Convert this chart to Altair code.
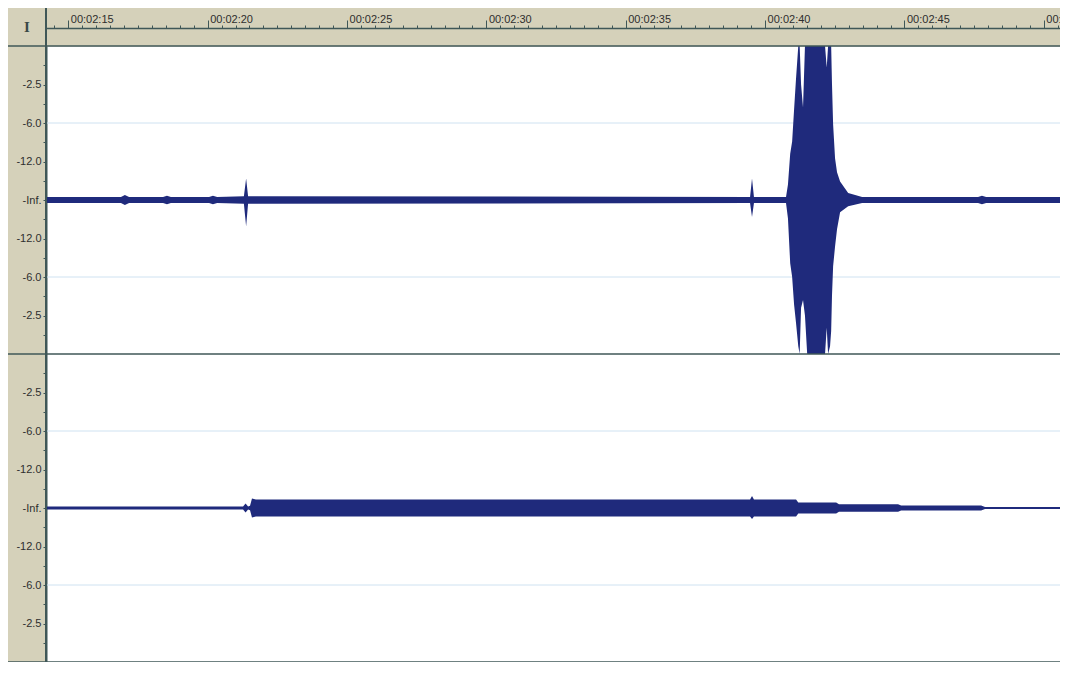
import altair as alt
import pandas as pd

# ---------------- text / ticks ----------------
ruler_major_seconds = [135, 140, 145, 150, 155, 160, 165, 170]
ruler_major_labels = ["00:02:15", "00:02:20", "00:02:25", "00:02:30",
                      "00:02:35", "00:02:40", "00:02:45", "00:02:50"]
ruler_minor_ticks = [134.5 + 0.5 * i for i in range(73)]
x_domain = [134.2, 170.58]

channel_centers = [1.0, -1.0]
db_offsets = [0.75, 0.5, 0.25, 0.0, -0.25, -0.5, -0.75]
db_labels = ["-2.5", "-6.0", "-12.0", "-Inf.", "-12.0", "-6.0", "-2.5"]
grid_offsets = [0.5, -0.5]
border_levels = [2.0, 0.0, -2.0]

# ---------------- channel 1 envelope (seconds, upper, lower amplitude) ----------------
ch1_time = [134.20, 136.89, 137.03, 137.18, 138.40, 138.54, 138.68, 140.05, 140.19,
            140.34, 141.30, 141.38, 141.45, 159.46, 159.53, 159.60, 160.75, 160.82,
            160.90, 160.97, 161.04, 161.11, 161.19, 161.24, 161.29, 161.36, 161.43,
            161.51, 162.15, 162.21, 162.26, 162.33, 162.37, 162.40, 162.44, 162.51,
            162.58, 162.69, 162.98, 163.48, 167.64, 167.78, 167.93, 170.98]
ch1_upper = [0.02, 0.02, 0.032, 0.02, 0.02, 0.028, 0.02, 0.02, 0.028,
             0.02, 0.025, 0.14, 0.025, 0.02, 0.14, 0.02, 0.02, 0.10,
             0.30, 0.38, 0.59, 0.79, 1.00, 1.00, 0.75, 0.60, 1.00,
             1.00, 1.00, 0.86, 1.00, 1.00, 1.00, 0.75, 0.49, 0.27,
             0.18, 0.12, 0.045, 0.02, 0.02, 0.028, 0.02, 0.02]
ch1_lower = [-0.02, -0.02, -0.032, -0.02, -0.02, -0.028, -0.02, -0.02, -0.028,
             -0.02, -0.025, -0.17, -0.025, -0.02, -0.11, -0.02, -0.02, -0.12,
             -0.41, -0.50, -0.68, -0.80, -0.95, -1.00, -0.70, -0.65, -0.75,
             -1.00, -1.00, -0.83, -1.00, -0.95, -0.85, -0.62, -0.43, -0.30,
             -0.19, -0.08, -0.04, -0.02, -0.02, -0.028, -0.02, -0.02]

# ---------------- channel 2 envelope ----------------
ch2_time = [134.20, 141.27, 141.36, 141.45, 141.52, 141.59, 141.73, 159.46, 159.53,
            159.60, 161.11, 161.19, 162.55, 162.65, 164.77, 164.88, 167.75, 167.89, 170.98]
ch2_upper = [0.01, 0.01, 0.03, 0.01, 0.015, 0.062, 0.055, 0.055, 0.078,
             0.055, 0.055, 0.035, 0.035, 0.024, 0.024, 0.016, 0.016, 0.007, 0.007]
ch2_lower = [-0.01, -0.01, -0.03, -0.01, -0.015, -0.062, -0.055, -0.055, -0.072,
             -0.055, -0.055, -0.035, -0.035, -0.024, -0.024, -0.016, -0.016, -0.007, -0.007]

# ---------------- styling ----------------
W, H = 1014, 616
PAD_L, PAD_T = 38, 38
BEIGE = "#d5d1ba"
LINE = "#3f5757"
WAVE = "#1f2a7c"
GRID = "#cfe2f1"
TEXT = "#2e2e2e"
FONT = "Liberation Sans"

# ---------------- tables ----------------
rows = []
for ch, (ts, up, lo) in enumerate([(ch1_time, ch1_upper, ch1_lower),
                                   (ch2_time, ch2_upper, ch2_lower)]):
    c = channel_centers[ch]
    for t, u, l in zip(ts, up, lo):
        rows.append({"ch": f"ch{ch + 1}", "t": t, "hi": c + u, "lo": c + l})
wave_df = pd.DataFrame(rows)

grid_df = pd.DataFrame({"y": [c + g for c in channel_centers for g in grid_offsets]})
border_df = pd.DataFrame({"y": border_levels})

y_tick_values = [c + k * 0.125 for c in channel_centers for k in range(-7, 8)]
y_label_expr = " : ".join(
    f"datum.value === {c + o} ? '{lab}'"
    for c in channel_centers for o, lab in zip(db_offsets, db_labels)
) + " : ''"
x_label_expr = " : ".join(
    f"datum.value === {s} ? '{lab}'" for s, lab in zip(ruler_major_seconds, ruler_major_labels)
) + " : ''"

xscale = alt.Scale(domain=x_domain, nice=False, zero=False)
yscale = alt.Scale(domain=[-2, 2], nice=False, zero=False)

x_axis = alt.Axis(
    orient="top", values=ruler_minor_ticks, labelExpr=x_label_expr, offset=18,
    tickSize={"condition": {"test": "datum.value % 5 === 0", "value": 8}, "value": 3},
    tickColor=LINE, tickWidth=1, domainColor=LINE, domainWidth=1.5,
    labelAlign="left", labelBaseline="alphabetic", labelPadding=-2, labelOffset=2,
    labelFont=FONT, labelFontSize=11, labelColor=TEXT, labelOverlap=False,
    labelFlush=False, grid=False, title="",
)
y_axis = alt.Axis(
    orient="left", values=y_tick_values, labelExpr=y_label_expr,
    tickSize=3, tickColor=LINE, tickWidth=1, domainColor=LINE, domainWidth=2,
    labelPadding=2, labelFont=FONT, labelFontSize=11, labelColor=TEXT,
    labelOverlap=False, labelFlush=False, grid=False, title="",
)

grid = alt.Chart(grid_df).mark_rule(color=GRID, strokeWidth=1).encode(
    y=alt.Y("y:Q", scale=yscale, axis=y_axis)
)

wave = alt.Chart(wave_df).mark_area(
    color=WAVE, clip=True, interpolate="linear", orient="vertical", opacity=1
).encode(
    x=alt.X("t:Q", scale=xscale, axis=x_axis),
    y=alt.Y("hi:Q", scale=yscale, axis=y_axis),
    y2="lo:Q",
    detail="ch:N",
)

borders = alt.Chart(border_df).mark_rule(color=LINE, strokeWidth=1.5).encode(
    y=alt.Y("y:Q", scale=yscale, axis=y_axis),
    x=alt.value(-PAD_L),
    x2=alt.value(W),
)

vline = alt.Chart(pd.DataFrame({"t": [x_domain[0]]})).mark_rule(
    color=LINE, strokeWidth=2
).encode(
    x=alt.X("t:Q", scale=xscale, axis=x_axis),
    y=alt.value(-PAD_T),
    y2=alt.value(H),
)

icon = alt.Chart(pd.DataFrame({"s": ["I"]})).mark_text(
    font="Liberation Serif", fontSize=15, fontWeight="bold", color="#3a4848",
    align="center", baseline="middle",
).encode(x=alt.value(-19), y=alt.value(-19), text="s:N")

chart = alt.layer(grid, wave, borders, vline, icon).properties(
    width=W, height=H,
    autosize=alt.AutoSizeParams(type="none"),
    padding={"left": PAD_L, "top": PAD_T, "right": 0, "bottom": 0},
    background=BEIGE,
).configure_view(fill="white", stroke="transparent")

chart.save("out.html", embed_options={"renderer": "svg", "actions": False})
